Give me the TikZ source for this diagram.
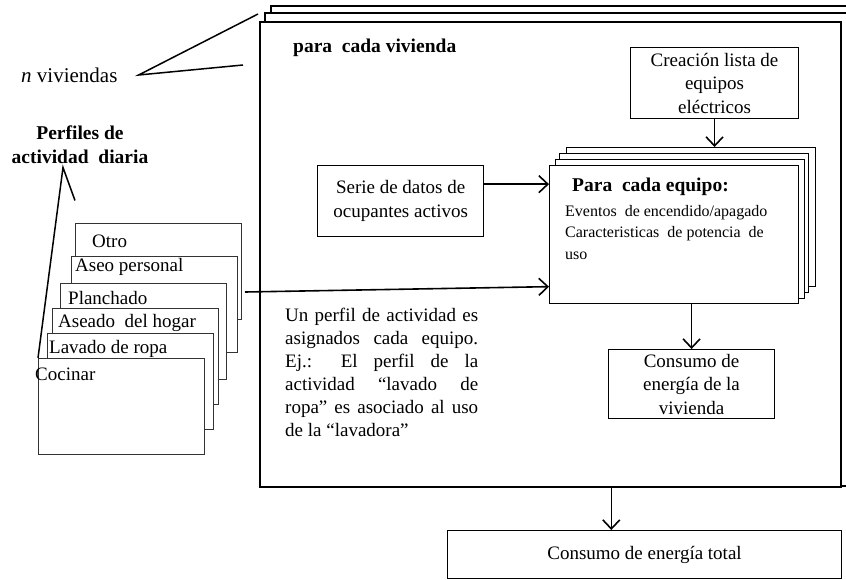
\documentclass[tikz,border=0pt]{standalone}
\usepackage{fontspec}
\setmainfont{Liberation Serif}
\usetikzlibrary{arrows.meta}
\newcommand{\renglon}[1]{\hbox to 193pt{\spaceskip=0.25em plus 1fil\relax #1}}

\begin{document}
\begin{tikzpicture}[x=1pt,y=-1pt,
    every node/.style={font=\fontsize{19}{23.5}\selectfont},
    caja/.style={draw, line width=1.1pt, fill=white, inner sep=0pt, anchor=north west},
    perfil/.style={draw=black!80, line width=1.1pt, fill=white, inner sep=0pt, anchor=north west, minimum width=166pt, minimum height=96pt},
    flecha/.style={-{Straight Barb[length=9pt,width=17pt]}, line width=1.6pt},
    linea/.style={line width=1.5pt},
    txt/.style={anchor=west, inner sep=0pt},
    negrita/.style={font=\fontsize{19.5}{24}\selectfont\bfseries}]
    \useasboundingbox (0,0) rectangle (846,579);
    % n viviendas (stack)
    \filldraw[fill=white, line width=1.4pt] (846,6) -- (271,6) -- (271,486) -- (846,486);
    \filldraw[fill=white, line width=1.4pt] (846,13) -- (265,13) -- (265,486) -- (846,486);
    \node[caja, line width=1.6pt, minimum width=581pt, minimum height=465pt] (viv) at (259,21) {};
    \node[txt, negrita] (tviv) at (293,48) {para~ cada vivienda};
    \node[txt, font=\fontsize{21}{24}\selectfont] (nviv) at (21,75) {\textit{n} viviendas};
    \coordinate (vsup) at (258,14);
    \coordinate (vinf) at (243,65);
    \draw[linea] (vsup) -- ([xshift=21pt]nviv.east) -- (vinf);
    % boxes inside
    \node[caja, minimum width=168pt, minimum height=71pt, align=center] (crear) at (630,47) {Creación lista de\\equipos\\eléctricos};
    \node[caja, line width=1.3pt, minimum width=166pt, minimum height=71pt, align=center] (serie) at (317,165) {Serie de datos de\\ocupantes activos};
    \foreach \dx/\dy [count=\i] in {17/18,10/12,6/6}
        \node[caja, minimum width=249pt, minimum height=139pt] (eq\i) at (549+\dx,165-\dy) {};
    \node[caja, line width=1.3pt, minimum width=249pt, minimum height=138pt] (equipo) at (549,165) {};
    \node[txt, negrita] (teq) at (572,187) {Para~ cada equipo:};
    \node[anchor=north west, inner sep=0pt, align=left, font=\fontsize{16}{21.5}\selectfont] (deq) at (565,205) {Eventos~ de encendido/apagado\\Caracteristicas~ de potencia~ de\\uso};
    \node[caja, minimum width=166pt, minimum height=69pt, align=center] (cviv) at (608,349) {Consumo de\\energía de la\\vivienda};
    \node[caja, minimum width=394pt, minimum height=48pt] (total) at (447,530) {Consumo de energía total};
    % text
    \node[anchor=north west, inner sep=0pt, align=left, font=\fontsize{19}{23}\selectfont] (nota) at (285,308) {%
        \renglon{Un perfil de actividad es}\\
        \renglon{asignados cada equipo.}\\
        \renglon{Ej.: El perfil de la}\\
        \renglon{actividad “lavado de}\\
        \renglon{ropa” es asociado al uso}\\
        de la “lavadora”};
    % perfiles
    \node[align=center, negrita] (tperf) at (80,145) {Perfiles de\\actividad~ diaria};
    \foreach \l/\t/\tx/\ty/\nom [count=\i] in {75/223/92/241/Otro, 71/256/75/267/Aseo personal, 60/283/68/298/Planchado, 52/308/58/323/Aseado~ del hogar, 47/333/49/349/Lavado de ropa, 38/358/35/374/Cocinar}
    {
        \node[perfil] (p\i) at (\l,\t) {};
        \node[txt] (tp\i) at (\tx,\ty) {\nom};
    }
    \draw[linea] (p6.north west) -- ([xshift=-17pt]tperf.south) -- ++(12,33);
    % arrows
    \draw[flecha] (crear.south) -- (crear.south |- eq1.north);
    \coordinate (s1) at ([yshift=17pt]serie.east);
    \draw[flecha] (s1) -- (s1 -| equipo.west);
    \coordinate (pini) at (245,292);
    \draw[flecha] (pini) -- ([yshift=-52pt]equipo.west);
    \draw[flecha] (cviv.north |- equipo.south) -- (cviv.north);
    \coordinate (v1) at ([xshift=61pt]viv.south);
    \draw[flecha] (v1) -- (v1 |- total.north);
\end{tikzpicture}
\end{document}
